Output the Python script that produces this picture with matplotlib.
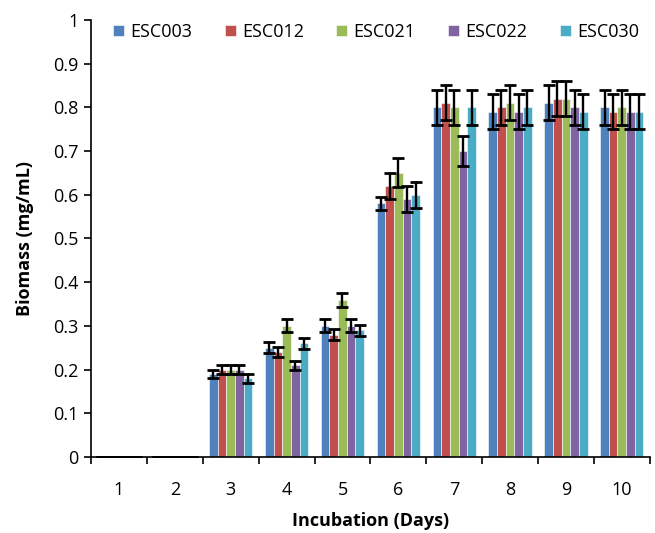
import numpy as np
import matplotlib.pyplot as plt

days = ['1', '2', '3', '4', '5', '6', '7', '8', '9', '10']
strains = ['ESC003', 'ESC012', 'ESC021', 'ESC022', 'ESC030']
colors = ['#4F81BD', '#C0504D', '#9BBB59', '#8064A2', '#4BACC6']

esc003 = [0, 0, 0.19, 0.25, 0.30, 0.58, 0.80, 0.79, 0.81, 0.80]
esc012 = [0, 0, 0.20, 0.24, 0.28, 0.62, 0.81, 0.80, 0.82, 0.79]
esc021 = [0, 0, 0.20, 0.30, 0.36, 0.65, 0.80, 0.81, 0.82, 0.80]
esc022 = [0, 0, 0.20, 0.21, 0.30, 0.59, 0.70, 0.79, 0.80, 0.79]
esc030 = [0, 0, 0.18, 0.26, 0.29, 0.60, 0.80, 0.80, 0.79, 0.79]

err003 = [0, 0, 0.01, 0.012, 0.015, 0.015, 0.04, 0.04, 0.04, 0.04]
err012 = [0, 0, 0.01, 0.012, 0.013, 0.03, 0.04, 0.04, 0.04, 0.04]
err021 = [0, 0, 0.01, 0.015, 0.016, 0.033, 0.04, 0.04, 0.04, 0.04]
err022 = [0, 0, 0.01, 0.01, 0.015, 0.03, 0.035, 0.04, 0.04, 0.04]
err030 = [0, 0, 0.01, 0.012, 0.013, 0.03, 0.04, 0.04, 0.04, 0.04]

values = [esc003, esc012, esc021, esc022, esc030]
errors = [err003, err012, err021, err022, err030]

plt.rcParams['font.family'] = ['Open Sans', 'DejaVu Sans']

fig = plt.figure(figsize=(6.55, 5.33), dpi=100)
ax = fig.add_axes([0.139, 0.1426, 0.853, 0.82])

x = np.arange(len(days))
w = 0.155
for i in range(len(strains)):
    pos = x + (i - 2) * w
    ax.bar(pos, values[i], w, color=colors[i], edgecolor='white', linewidth=0.4,
           label=strains[i], zorder=2)
    ax.errorbar(pos, values[i], yerr=errors[i], fmt='none', ecolor='black',
                elinewidth=1.7, capsize=4.5, capthick=2, zorder=3)

ax.set_xlim(-0.5, len(days) - 0.5)
ax.set_ylim(0, 1)
ax.set_yticks(np.arange(0, 1.01, 0.1))
ax.set_yticklabels(['0', '0.1', '0.2', '0.3', '0.4', '0.5', '0.6', '0.7', '0.8', '0.9', '1'])
ax.set_xticks(x)
ax.set_xticklabels(days)
ax.set_xticks(np.arange(-0.5, len(days)), minor=True)
ax.tick_params(axis='x', which='major', length=0, pad=17, labelsize=13)
ax.tick_params(axis='x', which='minor', length=5, width=1.2, direction='out')
ax.tick_params(axis='y', length=5, width=1.2, labelsize=13, pad=4)

for s in ['top', 'right']:
    ax.spines[s].set_visible(False)
ax.spines['left'].set_linewidth(1.2)
ax.spines['bottom'].set_linewidth(1.2)

ax.set_xlabel('Incubation (Days)', fontsize=13, fontweight='bold', labelpad=10)
ax.set_ylabel('Biomass (mg/mL)', fontsize=13, fontweight='bold', labelpad=14)

ax.legend(loc='upper center', bbox_to_anchor=(0.51, 1.03), ncol=5, frameon=False,
          fontsize=13, handlelength=0.6, handleheight=0.6, handletextpad=0.35,
          columnspacing=1.8)

fig.savefig('out.png', dpi=100)
